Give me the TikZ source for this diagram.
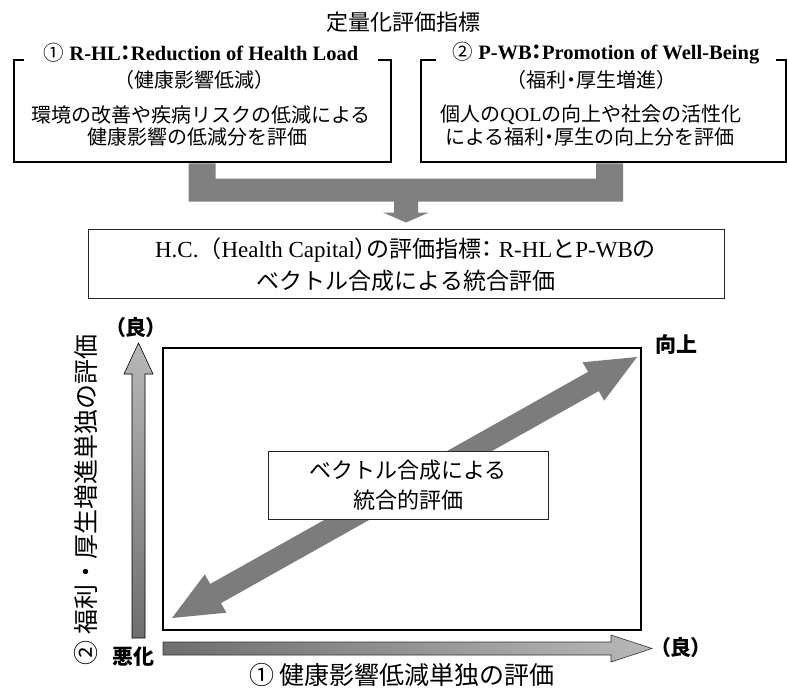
\documentclass[tikz,border=0pt]{standalone}
\usepackage{fontspec}
\setmainfont{Liberation Serif}
\newfontfamily\jp{Noto Sans CJK JP}
\newfontfamily\jpp[RawFeature=+palt]{Noto Sans CJK JP}
\usetikzlibrary{calc}
\definecolor{conngray}{HTML}{808080}
\definecolor{darkg}{HTML}{6E6E6E}
\definecolor{lightg}{HTML}{B8B8B8}
\definecolor{diagdark}{HTML}{7C7C7C}
\definecolor{diaglight}{HTML}{B4B4B4}
\begin{document}
\begin{tikzpicture}[x=1pt,y=-1pt,
  boxstyle/.style={draw=black, line width=1.3pt, inner sep=0pt},
  headstyle/.style={fill=white, inner sep=0pt, minimum height=22pt, font=\fontsize{20.5}{24}\selectfont},
  jptext/.style={inner sep=0pt, font=\jp\fontsize{20}{24}\selectfont},
  hctext/.style={inner sep=0pt, font=\fontsize{23}{28}\selectfont},
  axislabel/.style={inner sep=0pt, font=\jpp\bfseries\fontsize{21}{24}\selectfont},
  axistitle/.style={inner sep=0pt, font=\jp\fontsize{25}{28}\selectfont},
  connfill/.style={fill=conngray},
  vecarrow/.style={draw=black, line width=0.6pt}
]
\useasboundingbox (0,0) rectangle (787,688);

% title
\node[inner sep=0pt, font=\jp\fontsize{22}{26}\selectfont] (title) at (403,22) {定量化評価指標};

% top boxes
\node[boxstyle, minimum width=377pt, minimum height=102pt] (b1) at (202.5,111) {};
\node[boxstyle, minimum width=365pt, minimum height=102pt] (b2) at (603.5,111) {};
\node[headstyle, minimum width=354pt] (h1) at (201,53) {{\jp ①} \textbf{R-HL{\jpp\bfseries ：}Reduction of Health Load}};
\node[headstyle, minimum width=340pt] (h2) at (606,53) {{\jp ②} \textbf{P-WB{\jpp\bfseries ：}Promotion of Well-Being}};

\node[jptext] (b1t1) at (194,80) {（健康影響低減）};
\node[jptext] (b1t2) at (201,115) {環境の改善や疾病リスクの低減による};
\node[jptext] (b1t3) at (197,137) {健康影響の低減分を評価};
\node[jptext] (b2t1) at (591,80) {（福利{\jpp ・}厚生増進）};
\node[jptext] (b2t2) at (591,115) {個人の{\rmfamily QOL}の向上や社会の活性化};
\node[jptext] (b2t3) at (590,137) {による福利{\jpp ・}厚生の向上分を評価};

% H.C. box
\node[draw=black!85, line width=1pt, minimum width=636pt, minimum height=69pt, inner sep=0pt] (hc) at (406,263.5) {};
\node[hctext] (hc1) at (405.5,250) {H.C.{\jp（}Health Capital{\jpp ）}{\jp の評価指標}{\jpp ：} R-HL{\jp と}P-WB{\jp の}};
\node[hctext, font=\jp\fontsize{23}{28}\selectfont] (hc2) at (406,281) {ベクトル合成による統合評価};

% gray connector from boxes to H.C. box
\coordinate (L) at (b1.south);
\coordinate (R) at ($(b2.south)+(6,0)$);
\fill[connfill] ($(L)+(-14,0.7)$) -- ($(L)+(13,0.7)$) -- ($(L)+(13,16)$) -- ($(R)+(-13.5,16)$)
  -- ($(R)+(-13.5,0.7)$) -- ($(R)+(13.5,0.7)$) -- ($(R)+(13.5,39)$) -- ($(L)+(-14,39)$) -- cycle;
\fill[connfill] ($(hc.north)+(-12,-29)$) -- ($(hc.north)+(12,-29)$) -- ($(hc.north)+(12,-16)$)
  -- ($(hc.north)+(23,-16)$) -- ($(hc.north)+(0,-6)$) -- ($(hc.north)+(-23,-16)$)
  -- ($(hc.north)+(-12,-16)$) -- cycle;

% plot frame
\node[draw=black, line width=1.5pt, minimum width=478pt, minimum height=282pt, inner sep=0pt] (pb) at (402,489) {};

% diagonal double arrow
\coordinate (A) at (172,618);
\coordinate (B) at (637,357);
\coordinate (HA) at ($(A)!50pt!(B)$);
\coordinate (HB) at ($(B)!50pt!(A)$);
\shade[left color=diagdark, middle color=diaglight, right color=diagdark]
  (A) -- ($(HA)!22pt!90:(B)$) -- ($(HA)!11pt!90:(B)$) -- ($(HB)!11pt!-90:(A)$) -- ($(HB)!22pt!-90:(A)$)
  -- (B) -- ($(HB)!22pt!90:(A)$) -- ($(HB)!11pt!90:(A)$) -- ($(HA)!11pt!-90:(B)$) -- ($(HA)!22pt!-90:(B)$) -- cycle;

% inner box
\node[draw=black!85, line width=0.8pt, fill=white, minimum width=280pt, minimum height=68pt, inner sep=0pt,
  align=center, font=\jp\fontsize{22}{30}\selectfont] (ib) at (408,485) {ベクトル合成による\\統合的評価};

% vertical axis arrow
\coordinate (vb) at (138.5,638);
\coordinate (vt) at (138.5,343);
\shadedraw[vecarrow, top color=lightg, bottom color=darkg]
  ($(vb)+(-6.5,0)$) -- ($(vb)+(6.5,0)$) -- ($(vt)+(6.5,31)$) -- ($(vt)+(14.5,31)$) -- (vt)
  -- ($(vt)+(-14.5,31)$) -- ($(vt)+(-6.5,31)$) -- cycle;

% horizontal axis arrow
\coordinate (hl) at (163,648.5);
\coordinate (hr) at (652,648.5);
\shadedraw[vecarrow, draw=black!80, left color=darkg, right color=lightg]
  ($(hl)+(0,-6.5)$) -- ($(hr)+(-41,-6.5)$) -- ($(hr)+(-41,-13.5)$) -- (hr) -- ($(hr)+(-41,13.5)$)
  -- ($(hr)+(-41,6.5)$) -- ($(hl)+(0,6.5)$) -- cycle;

% labels
\node[axislabel] (good1) at (136,328) {（良）};
\node[axislabel] (up) at (676,345) {向上};
\node[axislabel] (bad) at (133,657) {悪化};
\node[axislabel] (good2) at (681,648) {（良）};
\node[axistitle, rotate=90] (ylab) at (86,500) {② 福利・厚生増進単独の評価};
\node[axistitle] (xlab) at (402,675) {① 健康影響低減単独の評価};
\end{tikzpicture}
\end{document}
